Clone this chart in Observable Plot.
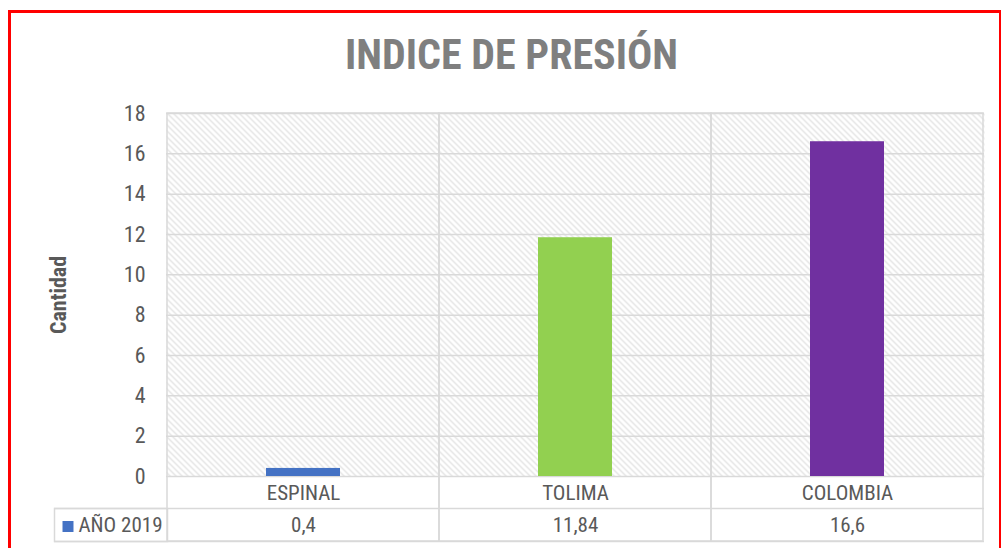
<!DOCTYPE html>
<html>
<head>
<meta charset="utf-8">
<script src="https://cdn.jsdelivr.net/npm/d3@7"></script>
<script src="https://cdn.jsdelivr.net/npm/@observablehq/plot@0.6"></script>
<style>
  html, body { margin: 0; padding: 0; background: #fff; }
  #wrap { position: relative; width: 1001px; height: 548px; overflow: hidden; }
  #border { position: absolute; left: 8px; top: 10px; width: 988px; height: 600px; border: 3px solid #ff0000; pointer-events: none; }
  #chart { position: absolute; left: 0; top: 0; }
</style>
</head>
<body>
<div id="wrap">
  <div id="chart"></div>
  <div id="border"></div>
</div>
<script>
const categories = ["ESPINAL", "TOLIMA", "COLOMBIA"];
const values = [0.4, 11.84, 16.6];
const valueLabels = ["0,4", "11,84", "16,6"];
const barColors = ["#4472c4", "#92d050", "#7030a0"];
const yTicks = [0, 2, 4, 6, 8, 10, 12, 14, 16, 18];
const seriesName = "AÑO 2019";
const title = "INDICE DE PRESIÓN";
const yLabel = "Cantidad";

const data = categories.map((c, i) => ({category: c, value: values[i], label: valueLabels[i], color: barColors[i]}));

const FONT = "'Liberation Sans Narrow', 'Arial Narrow', 'Roboto Condensed', 'Liberation Sans', sans-serif";
const GRID = "#d9d9d9";
const TXT = "#595959";

const plot = Plot.plot({
  width: 1001,
  height: 548,
  marginLeft: 166,
  marginRight: 17,
  marginTop: 113,
  marginBottom: 72,
  style: {fontFamily: FONT, fontSize: "21px", color: TXT, background: "transparent"},
  x: {type: "band", domain: categories, padding: 0, axis: null},
  y: {domain: [0, 18], axis: null},
  marks: [
    Plot.frame({fill: "url(#hatch)", stroke: null}),
    Plot.ruleY(yTicks, {stroke: GRID, strokeWidth: 1.5}),
    Plot.cell(categories, {x: d => d, fill: "none", stroke: GRID, strokeWidth: 1.5, insetBottom: -65}),
    Plot.ruleY([0], {stroke: GRID, strokeWidth: 1.5, dy: 32, insetLeft: -112}),
    Plot.ruleY([0], {stroke: GRID, strokeWidth: 1.5, dy: 65, insetLeft: -112}),
    Plot.frame({stroke: GRID, strokeWidth: 1.5, fill: "none", insetLeft: -112, insetRight: 817, insetTop: 395, insetBottom: -65}),
    Plot.barY(data, {x: "category", y: "value", fill: "color", insetLeft: 99, insetRight: 99}),
    Plot.axisY(yTicks, {tickSize: 0, tickPadding: 21, fontSize: 22, fill: TXT, label: null}),
    Plot.text(data, {x: "category", text: "category", frameAnchor: "bottom", dy: 17, lineAnchor: "middle", fill: TXT, fontSize: 21}),
    Plot.text(data, {x: "category", text: "label", frameAnchor: "bottom", dy: 49, lineAnchor: "middle", fill: TXT, fontSize: 21}),
    Plot.text([seriesName], {frameAnchor: "bottom-left", dx: -88, dy: 49, textAnchor: "start", lineAnchor: "middle", fill: TXT, fontSize: 21}),
    Plot.dot([seriesName], {frameAnchor: "bottom-left", dx: -98.5, dy: 50, symbol: "square", r: 6.2, fill: barColors[0], stroke: null}),
    Plot.text([yLabel], {frameAnchor: "left", textAnchor: "middle", dx: -108, rotate: -90, fontWeight: "bold", fill: TXT, fontSize: 22, lineAnchor: "middle"}),
    Plot.text([title], {frameAnchor: "top", dx: -64, dy: -58, fontWeight: "bold", fill: "#7f7f7f", fontSize: 42, lineAnchor: "middle"})
  ]
});

const svg = d3.select(plot);
const defs = svg.insert("defs", ":first-child");
const pat = defs.append("pattern")
  .attr("id", "hatch")
  .attr("patternUnits", "userSpaceOnUse")
  .attr("width", 6).attr("height", 6);
pat.append("rect").attr("width", 6).attr("height", 6).attr("fill", "#ffffff");
pat.append("path")
  .attr("d", "M-1,-1 L7,7 M-1,5 L1,7 M5,-1 L7,1")
  .attr("stroke", "#dadada")
  .attr("stroke-width", 1.1);

document.getElementById("chart").appendChild(plot);
</script>
</body>
</html>
